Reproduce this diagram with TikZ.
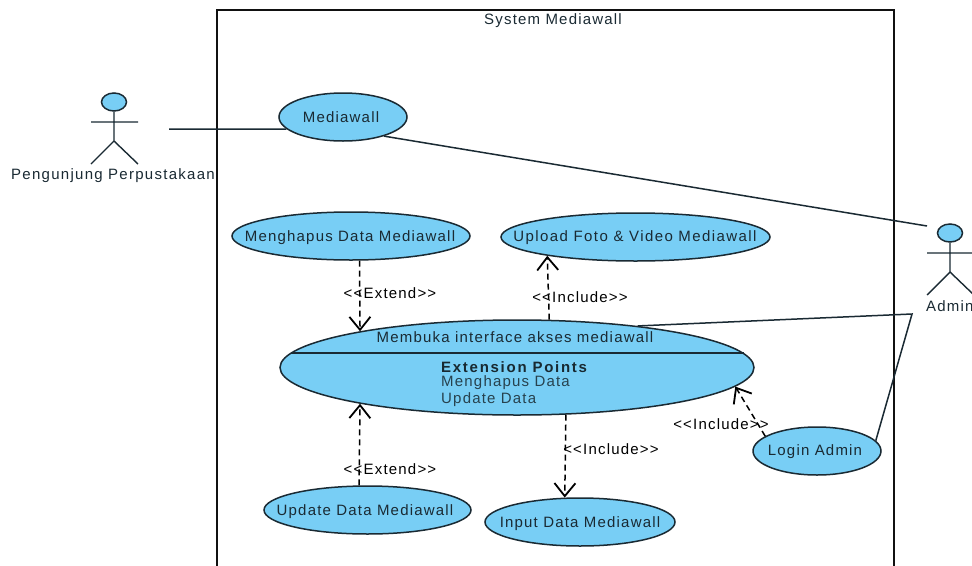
\documentclass[tikz,border=0pt]{standalone}
\usepackage{fontspec}
\setmainfont{Liberation Sans}[LetterSpace=8]
\usetikzlibrary{shapes.geometric,arrows.meta}
\definecolor{ucfill}{HTML}{78CEF5}
\definecolor{ink}{HTML}{1A2A33}
\definecolor{frameink}{HTML}{111111}
\tikzset{
  x=1pt,y=-1pt,
  uc/.style={ellipse,draw=ink,line width=1.5pt,fill=ucfill,inner sep=0pt,text=ink,font=\fontsize{15}{17}\selectfont},
  txt/.style={inner sep=0pt,text=ink,yshift=-1.5pt,font=\fontsize{15}{17}\selectfont},
  stereo/.style={inner sep=0pt,text=black,yshift=-1pt,font=\fontsize{15}{17}\selectfont},
  assoc/.style={draw=ink,line width=1.5pt},
  dep/.style={draw=black,line width=1.5pt,dash pattern=on 6pt off 4pt,-{Straight Barb[length=13pt,width=21pt,line width=1.8pt]}},
  actorhead/.style={ellipse,draw=ink,line width=1.5pt,fill=ucfill,minimum width=25pt,minimum height=18pt,inner sep=0pt},
  actorline/.style={draw=ink,line width=1.4pt},
  expt/.style={inner sep=0pt,anchor=west,yshift=-1pt,text=black!68!ucfill,font=\fontsize{15}{17}\selectfont},
}
\begin{document}
\begin{tikzpicture}
\clip[use as bounding box] (0,0) rectangle (972,565);
\fill[white] (0,0) rectangle (972,565);
% system frame
\coordinate (fbl) at (217,566);
\coordinate (ftl) at (217,10);
\coordinate (ftr) at (894,10);
\coordinate (fbr) at (894,566);
\draw[draw=frameink,line width=1.5pt] (fbl) -- (ftl) -- (ftr) -- (fbr);
\node[txt] (title) at (553,19) {System Mediawall};
% use cases
\node[uc,minimum width=128pt,minimum height=48pt] (media) at (343,117) {};
\node[txt] (medialabel) at (341,116) {Mediawall};
\node[uc,minimum width=238pt,minimum height=48pt] (hapus) at (351,236) {};
\node[txt] (hapuslabel) at (350,236) {Menghapus Data Mediawall};
\node[uc,minimum width=269pt,minimum height=48pt] (upload) at (635.5,237) {};
\node[txt] (uploadlabel) at (635,236) {\addfontfeature{LetterSpace=9.5}Upload Foto \& Video Mediawall};
\node[uc,minimum width=474pt,minimum height=95pt] (main) at (517,367.5) {};
\node[uc,minimum width=128pt,minimum height=48pt] (login) at (817,451) {};
\node[txt] (loginlabel) at (815,450) {Login Admin};
\node[uc,minimum width=207pt,minimum height=48pt] (update) at (367.5,510) {};
\node[txt] (updatelabel) at (365,510) {Update Data Mediawall};
\node[uc,minimum width=190pt,minimum height=48pt] (input) at (580,522) {};
\node[txt] (inputlabel) at (580,522) {Input Data Mediawall};
% compartment of the extended use case
\draw[assoc] (main.center) ++(-226.5,-14.5) coordinate (cl) -- ++(453,0) coordinate (cr);
\node[txt] (maintitle) at (515,336) {Membuka interface akses mediawall};
\node[expt,text=black!80!ucfill,font=\fontsize{15}{17}\selectfont\bfseries\addfontfeature{LetterSpace=11.5}] (ep) at (441,366) {Extension Points};
\node[expt] (ep1) at (441,382) {Menghapus Data};
\node[expt] (ep2) at (441,399) {Update Data};
% actors
\node[actorhead] (a1) at (114,102) {};
\coordinate (a1h) at (114,141);
\coordinate (a1al) at (91,122);
\coordinate (a1ar) at (138,122);
\coordinate (a1ll) at (91,164);
\coordinate (a1lr) at (138,164);
\draw[actorline] (a1.south) -- (a1h) (a1al) -- (a1ar) (a1ll) -- (a1h) -- (a1lr);
\node[txt] (a1label) at (113,174) {\addfontfeature{LetterSpace=8.5}Pengunjung Perpustakaan};
\node[actorhead] (a2) at (950,233) {};
\coordinate (a2h) at (950,272);
\coordinate (a2al) at (927,253);
\coordinate (a2ar) at (974,253);
\coordinate (a2ll) at (927,295);
\coordinate (a2lr) at (974,295);
\draw[actorline] (a2.south) -- (a2h) (a2al) -- (a2ar) (a2ll) -- (a2h) -- (a2lr);
\node[txt,anchor=west] (a2label) at (926,305) {Admin};
% associations
\coordinate (a1end) at (169,129);
\coordinate (a2end) at (927,226);
\coordinate (bend) at (912,314);
\draw[assoc] (a1end) -- (media.192);
\draw[assoc] (media.-25) -- (a2end);
\draw[assoc] (main.19.6) -- (bend) -- (login.10.7);
% dependencies
\draw[dep] (hapus.-71.6) -- (main.167.5);
\draw[dep] (update.109.5) -- (main.-167.5);
\draw[dep] (main.56.6) -- (upload.192.6);
\draw[dep] (main.-44) -- (input.122);
\draw[dep] (login.164) -- (main.-5.4);
\node[stereo] (s1) at (390,292) {<{}<Extend>{}>};
\node[stereo] (s2) at (580,296) {<{}<Include>{}>};
\node[stereo] (s3) at (390,468) {<{}<Extend>{}>};
\node[stereo] (s4) at (611,448) {<{}<Include>{}>};
\node[stereo] (s5) at (721,423) {<{}<Include>{}>};
\end{tikzpicture}
\end{document}
